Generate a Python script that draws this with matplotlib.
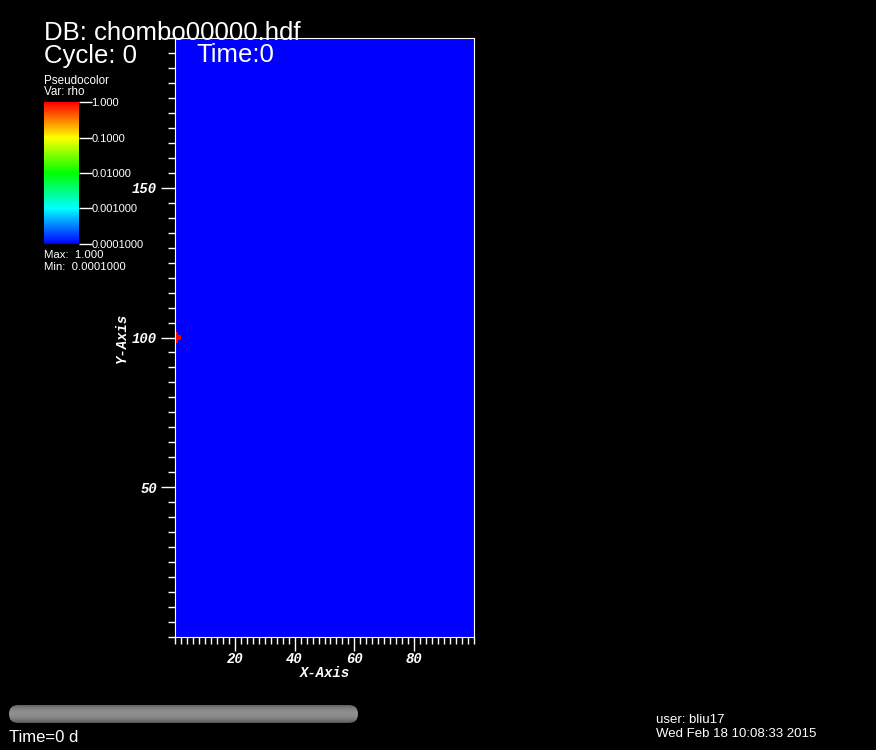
import numpy as np
import matplotlib
matplotlib.use("Agg")
import matplotlib.pyplot as plt
from matplotlib.colors import LinearSegmentedColormap, LogNorm
from matplotlib.patches import FancyBboxPatch
from matplotlib.ticker import MultipleLocator

# ---- data ----
x_range = [0, 100]
y_range = [0, 200]
rho_background = 1.0e-4
rho_min = 1.0e-4
rho_max = 1.0
# cells (x index, y index) of the dense blob, value rho_max
blob_x = [0, 0, 0, 0, 1, 1]
blob_y = [98, 99, 100, 101, 99, 100]
x_ticks = [20, 40, 60, 80]
y_ticks = [50, 100, 150]
cbar_ticks = [1.0e-4, 1.0e-3, 1.0e-2, 1.0e-1, 1.0]
cbar_labels = ["0.0001000", "0.001000", "0.01000", "0.1000", "1.000"]

# ---- figure ----
W, H = 876, 750
fig = plt.figure(figsize=(W / 100, H / 100), dpi=100, facecolor="black")

def fx(px):
    return px / W

def fy(py):
    return 1 - py / H

cmap = LinearSegmentedColormap.from_list(
    "hot_visit", [(0, 0, 1), (0, 1, 1), (0, 1, 0), (1, 1, 0), (1, 0, 0)])
norm = LogNorm(vmin=rho_min, vmax=rho_max)

xe = np.arange(x_range[0], x_range[1] + 1)
ye = np.arange(y_range[0], y_range[1] + 1)
field = np.full((len(ye) - 1, len(xe) - 1), rho_background)
for i, j in zip(blob_x, blob_y):
    field[j, i] = rho_max

ax = fig.add_axes([fx(175), fy(637), fx(474) - fx(175), fy(38) - fy(637)])
ax.set_facecolor("black")
ax.pcolormesh(xe, ye, field, cmap=cmap, norm=norm, shading="flat")
ax.set_xlim(*x_range)
ax.set_ylim(*y_range)
for s in ax.spines.values():
    s.set_color("white")
ax.set_xticks(x_ticks)
ax.set_yticks(y_ticks)
ax.xaxis.set_minor_locator(MultipleLocator(2))
ax.yaxis.set_minor_locator(MultipleLocator(5))
ax.tick_params(which="both", colors="white", direction="out")
ax.tick_params(which="major", length=10, width=1)
ax.tick_params(which="minor", length=5, width=1)
ax.tick_params(axis="y", which="major", pad=3)
ax.tick_params(axis="x", which="major", pad=1)
tickfont = dict(family="Liberation Mono", weight="bold", style="italic", size=10)
for lab in ax.get_xticklabels() + ax.get_yticklabels():
    lab.set_fontfamily(tickfont["family"])
    lab.set_fontweight("bold")
    lab.set_fontstyle("italic")
    lab.set_fontsize(10)
    lab.set_color("white")
ax.set_xlabel("X-Axis", color="white", labelpad=0, **tickfont)
ax.set_ylabel("Y-Axis", color="white", labelpad=2, **tickfont)

# ---- colorbar ----
cax = fig.add_axes([fx(44), fy(244), fx(79) - fx(44), fy(102) - fy(244)])
grad = np.logspace(-4, 0, 256).reshape(-1, 1)
cax.pcolormesh([0, 1], np.logspace(-4, 0, 257), grad, cmap=cmap, norm=norm)
cax.set_yscale("log")
cax.set_ylim(rho_min, rho_max)
cax.set_xlim(0, 1)
cax.set_xticks([])
cax.yaxis.tick_right()
cax.set_yticks(cbar_ticks)
cax.set_yticklabels(cbar_labels)
cax.minorticks_off()
cax.tick_params(axis="y", colors="white", direction="out", length=9, width=1,
                labelsize=8, pad=0)
for lab in cax.get_yticklabels():
    lab.set_fontfamily("Liberation Sans")
for s in cax.spines.values():
    s.set_visible(False)

sans = dict(family="Liberation Sans", color="white")
fig.text(fx(44), fy(30), "DB: chombo00000.hdf", fontsize=18.5, va="center_baseline", **sans)
fig.text(fx(44), fy(53), "Cycle: 0", fontsize=18.5, va="center_baseline", **sans)
fig.text(fx(196), fy(53), "Time:0", fontsize=18.5, va="center_baseline", **sans)
fig.text(fx(44), fy(81), "Pseudocolor", fontsize=8.4, va="center", **sans)
fig.text(fx(44), fy(92), "Var: rho", fontsize=8.4, va="center", **sans)
fig.text(fx(44), fy(255), "Max:  1.000", fontsize=8.2, va="center", **sans)
fig.text(fx(44), fy(267), "Min:  0.0001000", fontsize=8.2, va="center", **sans)
fig.text(fx(9), fy(737), "Time=0 d", fontsize=12, va="center", **sans)
fig.text(fx(656), fy(720), "user: bliu17", fontsize=9.5, va="center", **sans)
fig.text(fx(656), fy(734), "Wed Feb 18 10:08:33 2015", fontsize=9.5, va="center", **sans)

# ---- time slider bar ----
bx0, bx1, by0, by1 = 9, 358, 705, 723
bw, bh = bx1 - bx0, by1 - by0
bax = fig.add_axes([fx(bx0), fy(by1), fx(bx1) - fx(bx0), fy(by0) - fy(by1)])
bax.set_axis_off()
bax.set_xlim(0, bw)
bax.set_ylim(0, bh)
g = (0.31 + 0.25 * np.sin(np.linspace(0, np.pi, 64)) ** 0.7).reshape(-1, 1)
im = bax.imshow(g, cmap="gray", vmin=0, vmax=1, extent=[0, bw, 0, bh],
                aspect="auto", interpolation="bilinear")
patch = FancyBboxPatch((0, 0), bw, bh,
                       boxstyle="round,pad=0,rounding_size=%f" % (bh / 2),
                       transform=bax.transData,
                       facecolor="none", edgecolor="none")
bax.add_patch(patch)
im.set_clip_path(patch)

fig.savefig("out.png", dpi=100, facecolor="black")
